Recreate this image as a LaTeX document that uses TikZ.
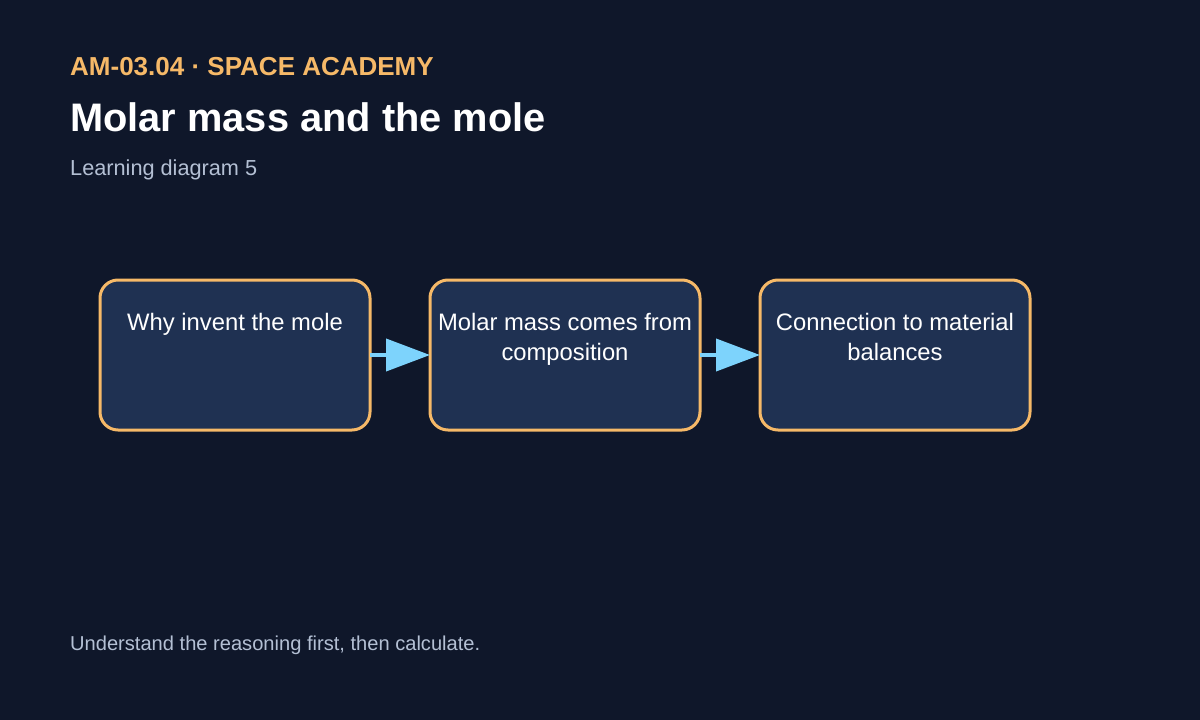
\documentclass[tikz,border=0pt]{standalone}
\usepackage{fontspec}
\setmainfont{Liberation Sans}
\usetikzlibrary{arrows.meta}
\definecolor{bg}{HTML}{0F172A}
\definecolor{boxfill}{HTML}{1F3152}
\definecolor{boxline}{HTML}{F6B968}
\definecolor{accent}{HTML}{F6B968}
\definecolor{arrowc}{HTML}{7DD3FC}
\definecolor{subtle}{HTML}{B4C0D4}
\tikzset{
  stepbox/.style={draw=boxline, fill=boxfill, line width=3pt, rounded corners=18pt,
    minimum width=270pt, minimum height=150pt, inner sep=0pt, outer sep=0pt},
  boxtext/.style={text=white, font=\fontsize{23.8}{30}\selectfont, align=center,
    inner sep=0pt, anchor=north},
  flow/.style={draw=arrowc, line width=4pt, -{Triangle[length=44pt,width=32pt]}},
}
\begin{document}
\begin{tikzpicture}[x=1pt,y=-1pt]
\fill[bg] (0,0) rectangle (1200,720);
\useasboundingbox (0,0) rectangle (1200,720);
\node[anchor=base west, text=accent, font=\fontsize{26}{30}\selectfont\bfseries, inner sep=0pt] (tag) at (70,75) {AM-03.04 · SPACE ACADEMY};
\node[anchor=base west, text=white, font=\fontsize{39.8}{46}\selectfont\bfseries, inner sep=0pt] (title) at (70,131) {Molar mass and the mole};
\node[anchor=base west, text=subtle, font=\fontsize{21.7}{26}\selectfont, inner sep=0pt] (sub) at (70,175) {Learning diagram 5};
\node[stepbox] (b1) at (235,355) {};
\node[stepbox] (b2) at (565,355) {};
\node[stepbox] (b3) at (895,355) {};
\node[boxtext] (t1) at (235,313) {Why invent the mole};
\node[boxtext] (t2) at (565,313) {Molar mass comes from\\composition};
\node[boxtext] (t3) at (895,313) {Connection to material\\balances};
\draw[flow] (b1.east) -- (b2.west);
\draw[flow] (b2.east) -- (b3.west);
\node[anchor=base west, text=subtle, font=\fontsize{20.1}{24}\selectfont, inner sep=0pt] (foot) at (70,650) {Understand the reasoning first, then calculate.};
\end{tikzpicture}
\end{document}
